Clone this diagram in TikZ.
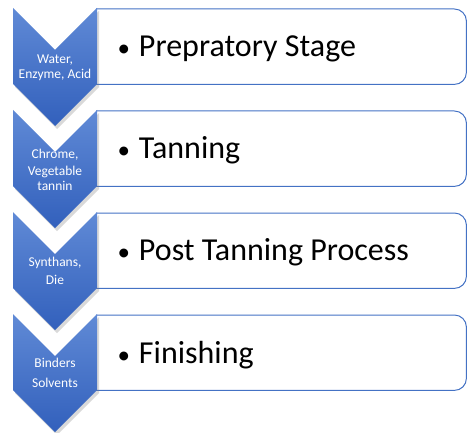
\documentclass[tikz,border=0pt]{standalone}
\usepackage{fontspec}
\setmainfont{Carlito}
\usetikzlibrary{shadows}
\definecolor{chevtop}{RGB}{96,138,214}
\definecolor{chevbot}{RGB}{50,96,188}
\definecolor{boxblue}{RGB}{68,114,196}
\newcommand{\stagebullet}{{\fontsize{25}{25}\selectfont\textbullet}\hspace{9pt}}
\tikzset{
  chevron/.style={top color=chevtop, bottom color=chevbot, draw=none,
    drop shadow={shadow xshift=2pt, shadow yshift=-3pt, opacity=0.3}},
  stagebox/.style={anchor=north west, minimum width=370pt, minimum height=75pt, inner sep=0pt},
  boxline/.style={draw=boxblue, line width=1pt, rounded corners=12pt},
  stagetext/.style={anchor=west, yshift=-2pt, font=\fontsize{32}{36}\selectfont},
  chevtext/.style={text=white, align=center, font=\fontsize{13.5}{15}\selectfont}
}
\begin{document}
\begin{tikzpicture}[x=1pt,y=-1pt]
        \useasboundingbox (0,0) rectangle (468,433);
        \node [stagebox]  (prep)     at (96,9)   {};                     %stage 1
        \draw [boxline]   (prep.north west) -- (prep.north east) -- (prep.south east) -- (prep.south west);
        \node [stagetext] (preptxt)  at ([xshift=18pt]prep.west) {\stagebullet Prepratory Stage};
        \node [stagebox]  (tan)      at (96,111) {};                     %stage 2
        \draw [boxline]   (tan.north west) -- (tan.north east) -- (tan.south east) -- (tan.south west);
        \node [stagetext] (tantxt)   at ([xshift=18pt]tan.west) {\stagebullet Tanning};
        \node [stagebox]  (post)     at (96,213) {};                     %stage 3
        \draw [boxline]   (post.north west) -- (post.north east) -- (post.south east) -- (post.south west);
        \node [stagetext] (posttxt)  at ([xshift=18pt]post.west) {\stagebullet Post Tanning Process};
        \node [stagebox]  (fin)      at (96,315) {};                     %stage 4
        \draw [boxline]   (fin.north west) -- (fin.north east) -- (fin.south east) -- (fin.south west);
        \node [stagetext] (fintxt)   at ([xshift=18pt]fin.west) {\stagebullet Finishing};

        \path [chevron] (13,8)   -- (55,50)  -- (97,8)   -- (97,84)  -- (55,126) -- (13,84)  -- cycle;
        \node [chevtext] (water)   at (55,68)  {Water,\\Enzyme, Acid};
        \path [chevron] (13,110) -- (55,152) -- (97,110) -- (97,186) -- (55,228) -- (13,186) -- cycle;
        \node [chevtext] (chrome)  at (55,170) {Chrome,\\[2pt]Vegetable\\tannin};
        \path [chevron] (13,212) -- (55,254) -- (97,212) -- (97,288) -- (55,330) -- (13,288) -- cycle;
        \node [chevtext] (synth)   at (55,271) {Synthans,\\[3pt]Die};
        \path [chevron] (13,314) -- (55,356) -- (97,314) -- (97,390) -- (55,432) -- (13,390) -- cycle;
        \node [chevtext] (binder)  at (55,373) {Binders\\[5pt]Solvents};
\end{tikzpicture}
\end{document}
